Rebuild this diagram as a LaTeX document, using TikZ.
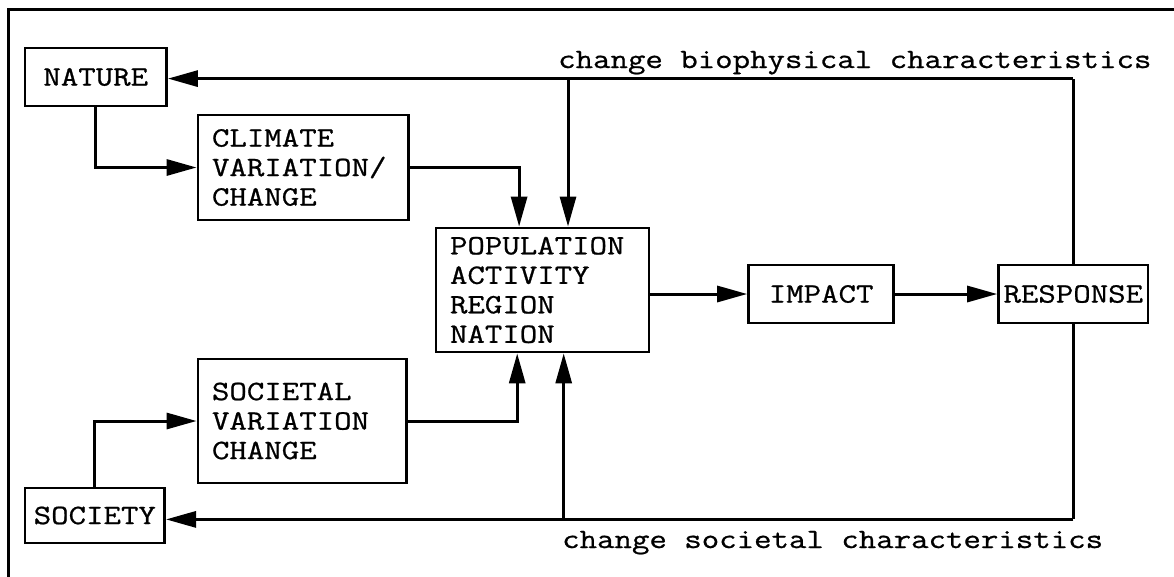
\documentclass[tikz,border=0pt]{standalone}
\usepackage{fontspec}
\newfontfamily\tw{Latin Modern Mono}[FakeStretch=1.21,FakeBold=0.8]
\usetikzlibrary{arrows.meta,calc}
\begin{document}
\begin{tikzpicture}[x=1pt,y=-1pt,
  txt/.style={font=\tw\fontsize{28}{29.5}\selectfont},
  box/.style={draw,line width=2.8pt,txt,inner sep=0pt,inner xsep=14pt},
  cbox/.style={box,align=center,inner xsep=2pt},
  lbox/.style={box,align=left},
  conn/.style={line width=3pt},
  arr/.style={conn,-{Triangle[length=30pt,width=16pt]}},
  lab/.style={txt,inner sep=0pt,anchor=base west}]
\useasboundingbox (0,0) rectangle (1174,576);
\draw[line width=3pt] (8,580) -- (8,9) -- (1180,9);
% boxes
\node[cbox,minimum width=141.5pt,minimum height=58pt] (nat) at (95.75,77) {NATURE};
\node[lbox,text width=182.7pt,minimum height=105pt] (clim) at (303.35,167.5) {CLIMATE\\VARIATION/\\CHANGE};
\node[lbox,text width=185pt,minimum height=124pt] (pop) at (542.5,290) {POPULATION\\ACTIVITY\\REGION\\NATION};
\node[cbox,minimum width=145pt,minimum height=58pt] (imp) at (821.1,294) {IMPACT};
\node[cbox,minimum width=149.4pt,minimum height=58pt] (resp) at (1073.3,294) {RESPONSE};
\node[lbox,text width=180.8pt,minimum height=124pt] (soc) at (302.4,421) {SOCIETAL\\VARIATION\\CHANGE};
\node[cbox,minimum width=139.6pt,minimum height=55pt] (socy) at (94.8,515.5) {SOCIETY};
% labels
\node[lab] (lbio) at (558,68) {change biophysical characteristics};
\node[lab] (lsoc) at (562,548) {change societal characteristics};
% helper coordinates
\coordinate (ttop) at ($(resp.north)+(0,-185)$);
\coordinate (tbr) at (568,80);
\coordinate (bbot) at ($(resp.south)+(0,195)$);
\coordinate (bbr) at (563.7,518);
% connectors
\draw[arr] (nat.south) |- (clim.west);
\draw[arr] (socy.north) |- (soc.west);
\draw[arr] (clim.east) -| ($(pop.north west)+(84.5,0)$);
\draw[arr] (soc.east) -| ($(pop.south west)+(82.6,0)$);
\draw[arr] (pop.east |- imp.west) -- (imp.west);
\draw[arr] (imp.east) -- (resp.west);
\draw[conn] (resp.north) -- (ttop);
\draw[arr] (ttop) -- (nat.east |- ttop);
\draw[arr] (tbr) -- (tbr |- pop.north);
\draw[conn] (resp.south) -- (bbot);
\draw[arr] (bbot) -- (socy.east |- bbot);
\draw[arr] (bbr) -- (bbr |- pop.south);
\end{tikzpicture}
\end{document}
